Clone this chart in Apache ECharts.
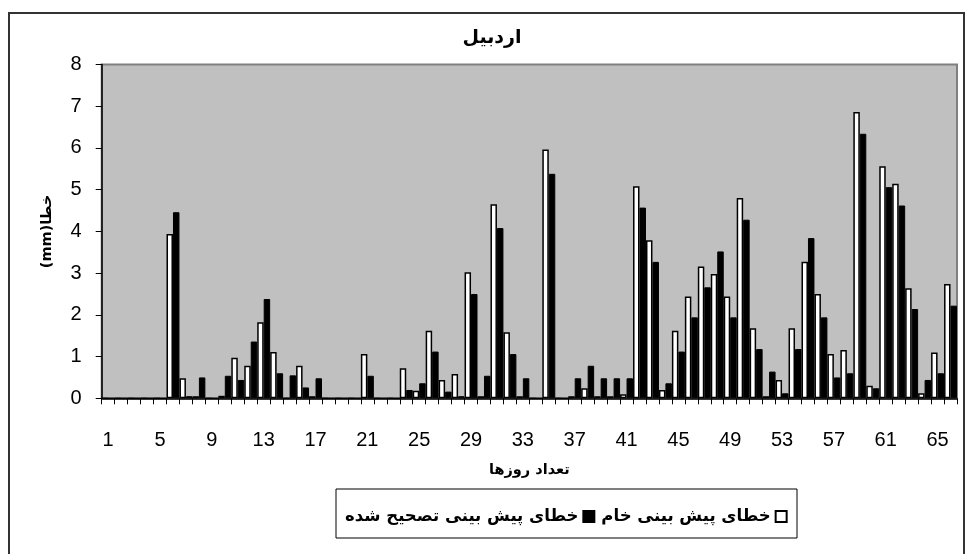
<!DOCTYPE html>
<html>
<head>
<meta charset="utf-8">
<script src="https://cdn.jsdelivr.net/npm/echarts@6/dist/echarts.min.js"></script>
<style>
  html, body { margin: 0; padding: 0; background: #fff; }
  #chart { width: 965px; height: 554px; }
</style>
</head>
<body>
<div id="chart"></div>
<script>
  // days 1..66
  const days = []
  for (let i = 1; i <= 66; i++) days.push(String(i))

  // خطای پیش بینی خام (raw forecast error)
  const rawError = [
    0, 0, 0, 0, 0, 3.94, 0.48, 0.05, 0, 0.06,
    0.97, 0.78, 1.82, 1.11, 0, 0.78, 0.05, 0, 0, 0,
    1.06, 0, 0, 0.72, 0.18, 1.62, 0.44, 0.58, 3.02, 0.05,
    4.65, 1.58, 0.05, 0, 5.96, 0, 0.05, 0.24, 0.05, 0.05,
    0.1, 5.08, 3.79, 0.2, 1.62, 2.44, 3.16, 2.98, 2.44, 4.8,
    1.68, 0.05, 0.44, 1.68, 3.27, 2.5, 1.06, 1.16, 6.86, 0.3,
    5.56, 5.14, 2.64, 0.12, 1.1, 2.74
  ]

  // خطای پیش بینی تصحیح شده (corrected forecast error)
  const correctedError = [
    0, 0, 0, 0, 0, 4.46, 0.05, 0.5, 0, 0.54,
    0.44, 1.36, 2.38, 0.6, 0.55, 0.26, 0.48, 0, 0, 0,
    0.54, 0, 0, 0.2, 0.36, 1.12, 0.16, 0.05, 2.5, 0.54,
    4.08, 1.06, 0.48, 0, 5.38, 0, 0.48, 0.78, 0.48, 0.48,
    0.48, 4.57, 3.27, 0.36, 1.12, 1.94, 2.66, 3.52, 1.94, 4.28,
    1.18, 0.64, 0.12, 1.18, 3.84, 1.94, 0.5, 0.6, 6.34, 0.24,
    5.06, 4.62, 2.14, 0.44, 0.6, 2.22
  ]

  const rawName = 'خطای پیش بینی خام'
  const corrName = 'خطای پیش بینی تصحیح شده'
  const arabicFont = '"DejaVu Sans", "Noto Sans", sans-serif'
  const numFont = '"Liberation Sans", Arial, sans-serif'

  const chart = echarts.init(document.getElementById('chart'))
  const option = {
    animation: false,
    backgroundColor: '#fff',
    title: {
      text: 'اردبیل',
      left: 487,
      top: 24,
      textAlign: 'center',
      textStyle: { fontFamily: arabicFont, fontSize: 19, fontWeight: 'bold', color: '#000' }
    },
    graphic: [
      {
        type: 'rect',
        shape: { x: 9, y: 13, width: 955, height: 560 },
        style: { fill: 'none', stroke: '#333', lineWidth: 2 },
        silent: true
      },
      {
        type: 'rect',
        shape: { x: 336, y: 489, width: 461, height: 49 },
        style: { fill: 'none', stroke: '#000', lineWidth: 1 },
        silent: true
      }
    ],
    legend: {
      data: [corrName, rawName],
      left: 340,
      top: 503,
      align: 'right',
      icon: 'rect',
      itemWidth: 11,
      itemHeight: 11,
      itemGap: 6,
      textStyle: { fontFamily: arabicFont, fontSize: 16.5, fontWeight: 'bold', color: '#000' }
    },
    grid: {
      left: 101.7,
      right: 8,
      top: 64.5,
      bottom: 155.7,
      show: true,
      backgroundColor: '#c0c0c0',
      borderColor: '#808080',
      borderWidth: 2
    },
    xAxis: {
      type: 'category',
      data: days,
      name: 'تعداد روزها',
      nameLocation: 'middle',
      nameGap: 64,
      nameTextStyle: { fontFamily: arabicFont, fontSize: 14.5, fontWeight: 'bold', color: '#000' },
      axisLine: { lineStyle: { color: '#000', width: 1.5 } },
      axisTick: { show: true, interval: 0, length: 6, lineStyle: { color: '#000' } },
      axisLabel: { interval: 3, margin: 32, fontFamily: numFont, fontSize: 20, color: '#000' }
    },
    yAxis: {
      type: 'value',
      min: 0,
      max: 8,
      interval: 1,
      name: '(mm)خطا',
      nameLocation: 'middle',
      nameGap: 47,
      nameTextStyle: { fontFamily: arabicFont, fontSize: 14.5, fontWeight: 'bold', color: '#000' },
      axisLine: { show: true, lineStyle: { color: '#000', width: 1.5 } },
      axisTick: { show: true, length: 6, lineStyle: { color: '#000' } },
      axisLabel: { margin: 20, fontFamily: numFont, fontSize: 20, color: '#000' },
      splitLine: { show: false }
    },
    series: [
      {
        name: rawName,
        type: 'bar',
        data: rawError,
        barGap: '0%',
        barCategoryGap: '0%',
        itemStyle: { color: '#fff', borderColor: '#000', borderWidth: 1.5 }
      },
      {
        name: corrName,
        type: 'bar',
        data: correctedError,
        barGap: '0%',
        barCategoryGap: '0%',
        itemStyle: { color: '#000', borderColor: '#000', borderWidth: 1 }
      }
    ]
  }
  chart.setOption(option)
  window.addEventListener('resize', () => chart.resize())
</script>
</body>
</html>
